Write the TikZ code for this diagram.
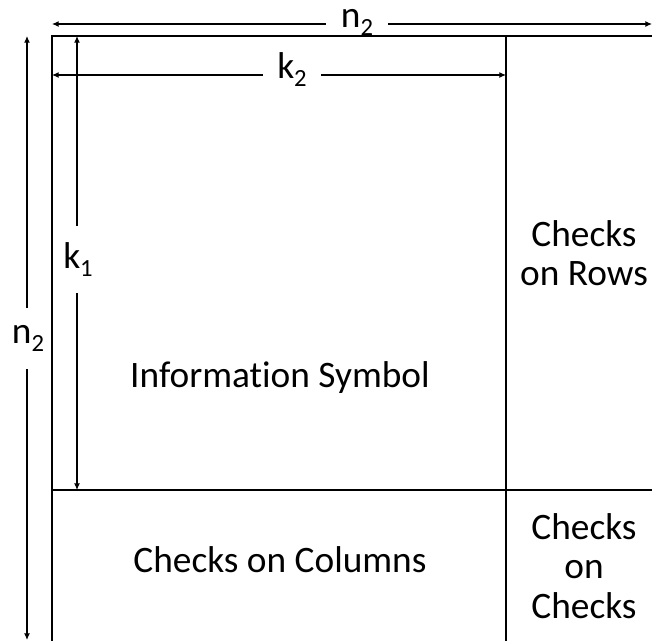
\documentclass[tikz,border=0pt]{standalone}
\usepackage{fontspec}
\setmainfont{Carlito}[Ligatures={NoCommon}]
\usetikzlibrary{arrows.meta}
\tikzset{
  frame/.style={line width=1.3pt},
  dim/.style={line width=0.9pt,{Latex[length=5pt,width=4.5pt]}-{Latex[length=5pt,width=4.5pt]}},
  hlbl/.style={fill=white,inner xsep=11pt,inner ysep=1pt,anchor=base,font=\fontsize{28}{30}\selectfont},
  vlbl/.style={fill=white,inner xsep=1pt,inner ysep=12pt,anchor=base,font=\fontsize{28}{30}\selectfont},
  txt/.style={align=center,font=\fontsize{28}{29.5}\selectfont,inner sep=0pt}
}
\newcommand{\sbs}[1]{\raisebox{-6.5pt}{\fontsize{18.5}{19}\selectfont #1}}
\begin{document}
\begin{tikzpicture}[x=0.75pt,y=-0.75pt]
\useasboundingbox (0,0) rectangle (652,640);
% dimension arrows
\coordinate (n2a) at (52,24);
\coordinate (n2b) at (652,24);
\draw[dim] (n2a) -- (n2b);
\node[hlbl] (n2t) at (357,27) {n\sbs{2}};
\coordinate (k2a) at (52,75);
\coordinate (k2b) at (506,75);
\draw[dim] (k2a) -- (k2b);
\node[hlbl] (k2t) at (292,78) {k\sbs{2}};
\coordinate (k1a) at (77,36);
\coordinate (k1b) at (77,490);
\draw[dim] (k1a) -- (k1b);
\node[vlbl] (k1t) at (78,268) {k\sbs{1}};
\coordinate (n2la) at (27,36);
\coordinate (n2lb) at (27,640);
\draw[dim] (n2la) -- (n2lb);
\node[vlbl,inner ysep=13pt] (n2l) at (28,343) {n\sbs{2}};
% frame
\coordinate (tl) at (52,36);
\coordinate (tr) at (660,36);
\coordinate (bl) at (52,648);
\coordinate (vt) at (506,36);
\coordinate (vb) at (506,648);
\coordinate (hl) at (52,490);
\coordinate (hr) at (660,490);
\draw[frame] (tr) -- (tl) -- (bl);
\draw[frame] (vt) -- (vb);
\draw[frame] (hl) -- (hr);
% texts
\node[txt] (info) at (280,378) {Information Symbol};
\node[txt] (cols) at (280,560) {Checks on Columns};
\node[txt] (rows) at (584,253) {Checks\\on Rows};
\node[txt] (cc) at (584,566) {Checks\\on\\Checks};
\end{tikzpicture}
\end{document}
